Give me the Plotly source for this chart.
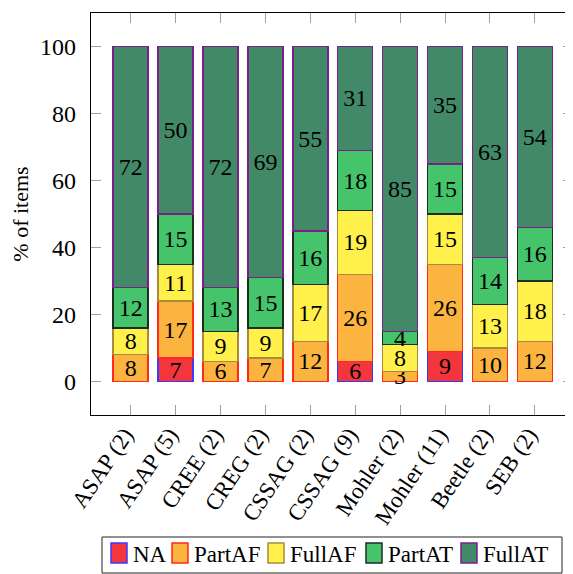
import plotly.graph_objects as go

categories = ["ASAP (2)", "ASAP (5)", "CREE (2)", "CREG (2)", "CSSAG (2)",
              "CSSAG (9)", "Mohler (2)", "Mohler (11)", "Beetle (2)", "SEB (2)"]
na_vals = [0, 7, 0, 0, 0, 6, 0, 9, 0, 0]
partaf_vals = [8, 17, 6, 7, 12, 26, 3, 26, 10, 12]
fullaf_vals = [8, 11, 9, 9, 17, 19, 8, 15, 13, 18]
partat_vals = [12, 15, 13, 15, 16, 18, 4, 15, 14, 16]
fullat_vals = [72, 50, 72, 69, 55, 31, 85, 35, 63, 54]
y_ticks = [0, 20, 40, 60, 80, 100]
series_names = ["NA", "PartAF", "FullAF", "PartAT", "FullAT"]

series_vals = [na_vals, partaf_vals, fullaf_vals, partat_vals, fullat_vals]
fills = ["#f2363b", "#fbb43f", "#fff04b", "#45c46b", "#428a67"]
lines = ["#3a3aff", "#ff2a1a", "#a88c3c", "#1c2e20", "#7a1f8a"]

FONT = "Liberation Serif, Times New Roman, serif"
OFF = 8  # default page body margin
W, H = 565, 566
ML, MR, MT, MB = 91 - OFF, 0, 13 - OFF, 159
PW, PH = W - ML - MR, H - MT - MB


def px_x(px):
    return (px - OFF - ML) / PW


def px_y(py):
    return (H - MB - (py - OFF)) / PH


fig = go.Figure()
for name, vals, fill, line in zip(series_names, series_vals, fills, lines):
    fig.add_trace(go.Bar(
        name=name, x=categories, y=vals,
        marker=dict(color=fill, line=dict(color=line, width=1.5)),
        text=[str(v) if v > 0 else "" for v in vals],
        textposition="inside", insidetextanchor="middle",
        textangle=0, constraintext="none",
        textfont=dict(family=FONT, size=24, color="black"),
        showlegend=False,
    ))

# manual legend (one row, boxed)
shapes = [dict(type="rect", xref="paper", yref="paper",
               x0=px_x(102), x1=px_x(562), y0=px_y(573), y1=px_y(537),
               line=dict(color="#222222", width=1), fillcolor="white", layer="above")]
annotations = []
sq_left = [111, 172, 268, 366, 461]
for name, fill, line, sx in zip(series_names, fills, lines, sq_left):
    shapes.append(dict(type="rect", xref="paper", yref="paper",
                       x0=px_x(sx), x1=px_x(sx + 16), y0=px_y(563), y1=px_y(543),
                       line=dict(color=line, width=1.5), fillcolor=fill, layer="above"))
    annotations.append(dict(text=name, xref="paper", yref="paper",
                            x=px_x(sx + 20), y=px_y(554), xanchor="left", yanchor="middle",
                            showarrow=False, font=dict(family=FONT, size=23, color="black")))

fig.update_layout(
    barmode="stack", bargap=0.22,
    width=W, height=H,
    margin=dict(l=ML, r=MR, t=MT, b=MB),
    paper_bgcolor="white", plot_bgcolor="white",
    font=dict(family=FONT, size=23, color="black"),
    showlegend=False,
    shapes=shapes, annotations=annotations,
    uniformtext=dict(mode=False),
)
fig.update_xaxes(
    type="category", range=[-0.884, 9.85], tickangle=-56,
    showline=True, linecolor="black", linewidth=1.2, mirror="ticks",
    ticks="inside", ticklen=10, tickcolor="#a0a0a0", tickwidth=1.2,
    showgrid=False, zeroline=False, automargin=False,
    tickfont=dict(family=FONT, size=23, color="black"),
    ticklabelshift=-6, ticklabelstandoff=-4,
)
fig.update_yaxes(
    range=[-10, 110], tickvals=y_ticks,
    title=dict(text="% of items", standoff=12, font=dict(family=FONT, size=22, color="black")),
    showline=True, linecolor="black", linewidth=1.2, mirror="ticks",
    ticks="inside", ticklen=10, tickcolor="#a0a0a0", tickwidth=1.2,
    showgrid=False, zeroline=False, automargin=False,
    tickfont=dict(family=FONT, size=24, color="black"),
    ticklabelstandoff=9,
)
fig.write_html("out.html")
